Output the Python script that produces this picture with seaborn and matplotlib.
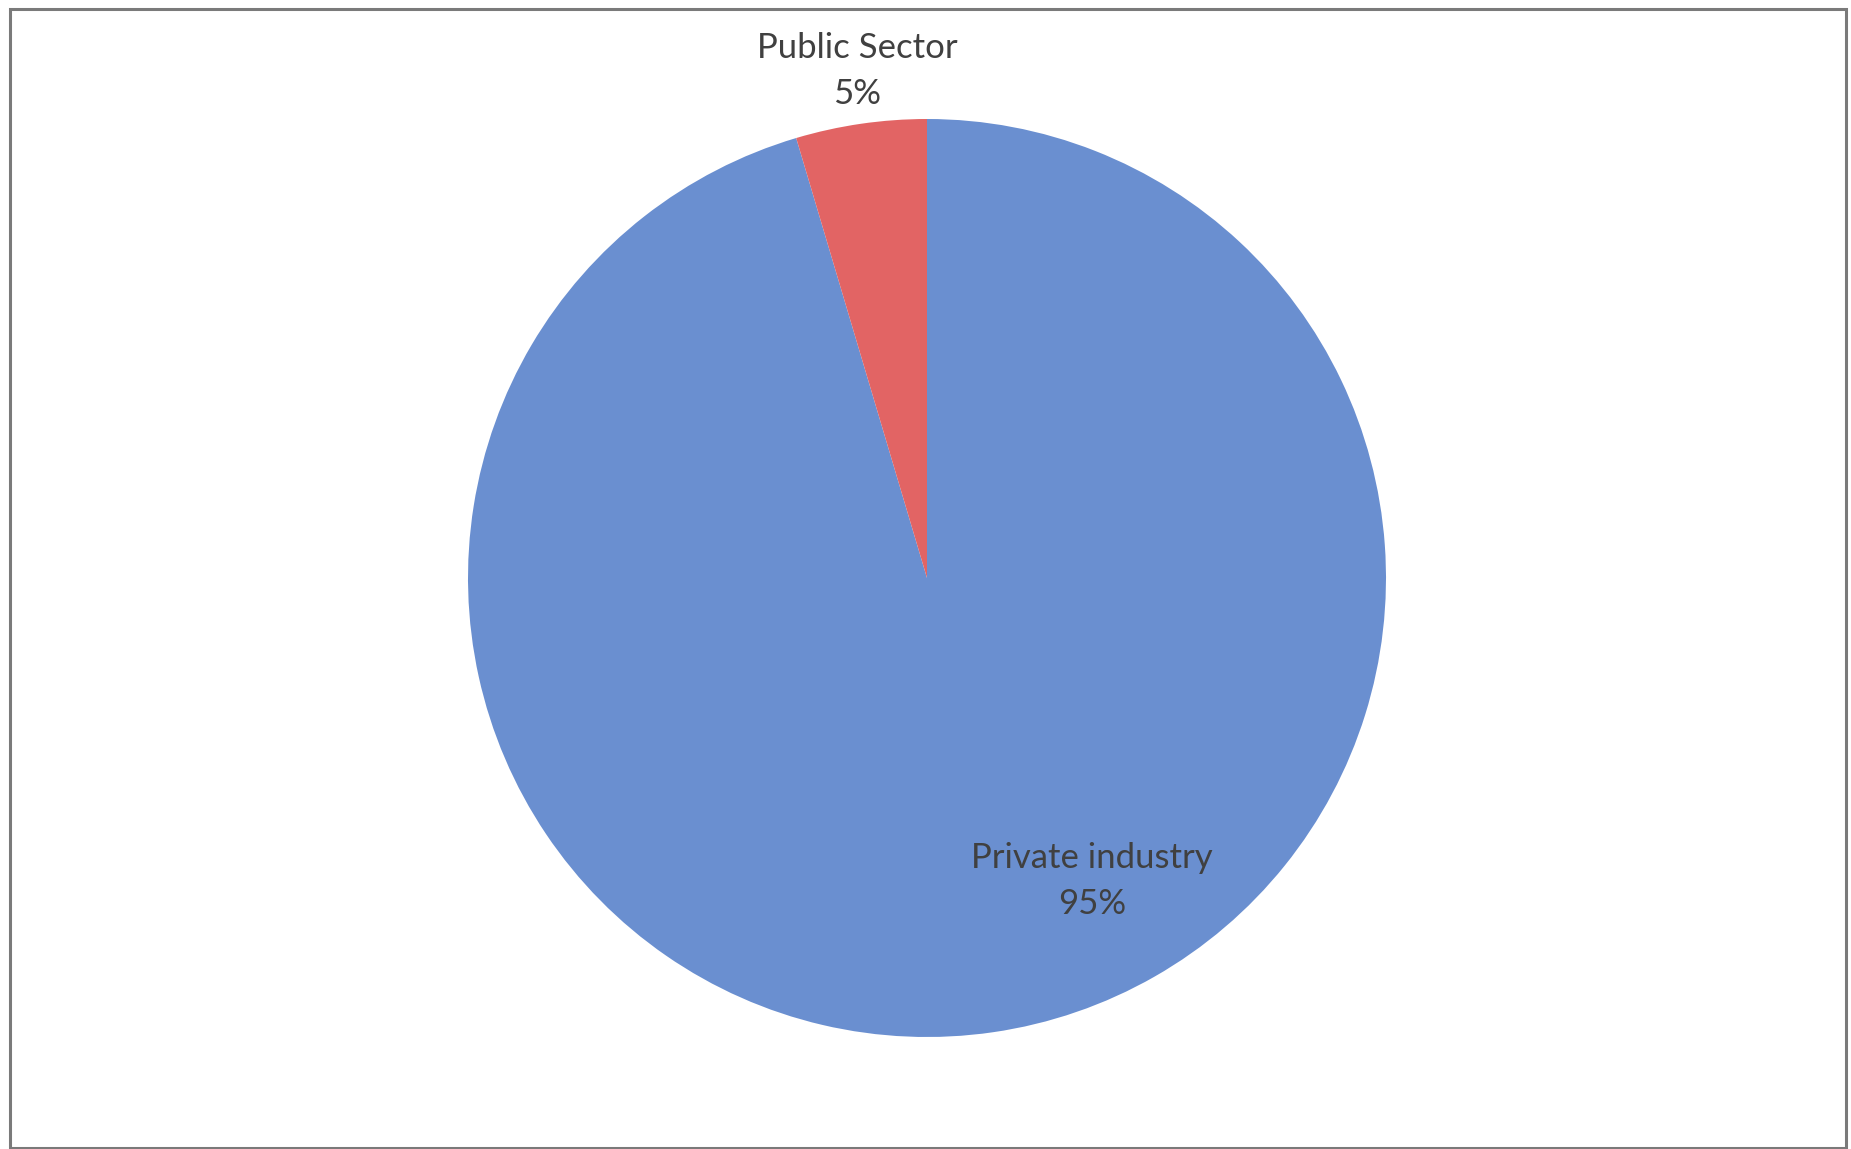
import matplotlib
matplotlib.use("Agg")
import matplotlib.pyplot as plt
import seaborn as sns
from matplotlib.patches import Rectangle

categories = ["Private industry", "Public Sector"]
values = [95.4, 4.6]
pct_labels = ["95%", "5%"]
colors = ["#6a8fd0", "#e26464"]

sns.set_theme(style="white")
plt.rcParams['font.family'] = ['Lato', 'DejaVu Sans']

W, H = 1851, 1149
fig = plt.figure(figsize=(W / 100, H / 100), dpi=100)
fig.patch.set_facecolor("white")

cx, cy, r = 927, 578, 459
ax = fig.add_axes([(cx - r) / W, (H - cy - r) / H, 2 * r / W, 2 * r / H])
ax.pie(values, colors=colors, startangle=90, counterclock=False,
       wedgeprops=dict(linewidth=0), radius=1.0)
ax.set_xlim(-1, 1)
ax.set_ylim(-1, 1)
ax.set_aspect("auto")
ax.axis("off")

# data labels
def px_to_data(px, py):
    return (px - cx) / r, (cy - py) / r

x, y = px_to_data(857, 71)
ax.text(x, y, f"{categories[1]}\n{pct_labels[1]}", ha="center", va="center",
        fontsize=25, color="#404040", linespacing=1.55, clip_on=False)
x, y = px_to_data(1092, 881)
ax.text(x, y, f"{categories[0]}\n{pct_labels[0]}", ha="center", va="center",
        fontsize=25, color="#404040", linespacing=1.55, clip_on=False)

# outer border
fig.patches.append(Rectangle((10 / W, 1.5 / H), (1846 - 10) / W, (1140 - 1.5) / H,
                             transform=fig.transFigure, fill=False,
                             edgecolor="#7a7a7a", linewidth=2.2))

fig.savefig("out.png", dpi=100, facecolor="white")
